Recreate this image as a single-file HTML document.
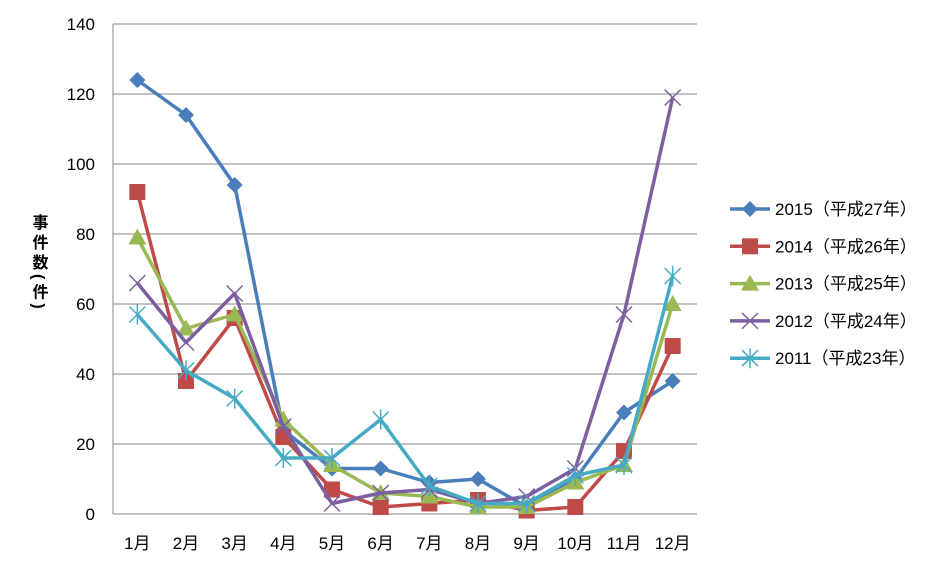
<!DOCTYPE html>
<html><head><meta charset="utf-8"><style>
body{margin:0;background:#fff;}
svg text{font-family:"Liberation Sans","Noto Sans CJK JP",sans-serif;fill:#000;}
</style></head><body>
<svg id="c" width="942" height="568"></svg>
<script>
const categories=["1月","2月","3月","4月","5月","6月","7月","8月","9月","10月","11月","12月"];
const yTicks=[0,20,40,60,80,100,120,140];
const seriesNames=["2015（平成27年）","2014（平成26年）","2013（平成25年）","2012（平成24年）","2011（平成23年）"];
const s2015=[124,114,94,24,13,13,9,10,2,10,29,38];
const s2014=[92,38,56,22,7,2,3,4,1,2,18,48];
const s2013=[79,53,57,27,14,6,5,2,2,9,14,60];
const s2012=[66,49,63,25,3,6,7,3,5,13,57,119];
const s2011=[57,41,33,16,16,27,8,3,3,11,14,68];
const allSeries=[s2015,s2014,s2013,s2012,s2011];
const colors=["#4a7ebb","#be4b48","#98b954","#7d5fa0","#46aac5"];
const markers=["diamond","square","triangle","x","star"];
const NS="http://www.w3.org/2000/svg";
const svg=document.getElementById("c");
const L=113,R=697,T=24,B=514;
const x=i=>L+(R-L)/categories.length*(i+0.5);
const y=v=>B-(v/140)*(B-T);
function mk(t,a,p){const e=document.createElementNS(NS,t);for(const k in a)e.setAttribute(k,a[k]);(p||svg).appendChild(e);return e;}
yTicks.forEach(t=>{
 if(t>0){const g=mk("line",{x1:L,x2:R,y1:y(t),y2:y(t),stroke:"#868686","stroke-width":1});
 
 }
 const tx=mk("text",{x:L-18,y:y(t)+6,"text-anchor":"end","font-size":17});tx.textContent=t;
 
 
});
const ax=mk("line",{x1:L,x2:L,y1:T,y2:B,stroke:"#868686"});


const bx=mk("line",{x1:L,x2:R,y1:B,y2:B,stroke:"#868686"});


categories.forEach((c,i)=>{
 const tx=mk("text",{x:x(i),y:549,"text-anchor":"middle","font-size":17});tx.textContent=c;
 
 
});
const yt=mk("text",{x:38,y:214,"font-size":16,"writing-mode":"tb","font-weight":"bold","letter-spacing":"4"});yt.textContent="事件数(件)";


function marker(type,cx,cy,col,g){
 if(type==="diamond")mk("polygon",{points:`${cx},${cy-8} ${cx+8},${cy} ${cx},${cy+8} ${cx-8},${cy}`,fill:col},g);
 else if(type==="square")mk("rect",{x:cx-8,y:cy-8,width:16,height:16,fill:col},g);
 else if(type==="triangle")mk("polygon",{points:`${cx},${cy-9} ${cx+9},${cy+7} ${cx-9},${cy+7}`,fill:col},g);
 else if(type==="x"){mk("path",{d:`M${cx-8} ${cy-8}L${cx+8} ${cy+8}M${cx+8} ${cy-8}L${cx-8} ${cy+8}`,stroke:col,"stroke-width":1.5},g);}
 else {mk("path",{d:`M${cx-8} ${cy-8}L${cx+8} ${cy+8}M${cx+8} ${cy-8}L${cx-8} ${cy+8}M${cx} ${cy-10}L${cx} ${cy+10}`,stroke:col,"stroke-width":1.5},g);}
}
allSeries.forEach((d,si)=>{
 const g=mk("g",{});
 
 
 mk("polyline",{points:d.map((v,i)=>x(i)+","+y(v)).join(" "),fill:"none",stroke:colors[si],"stroke-width":3.5,"stroke-linejoin":"round"},g);
 d.forEach((v,i)=>marker(markers[si],x(i),y(v),colors[si],g));
 const ly=209+si*37.3;
 const lg=mk("g",{});
 
 
 mk("line",{x1:730,x2:770,y1:ly,y2:ly,stroke:colors[si],"stroke-width":3.5},lg);
 marker(markers[si],750,ly,colors[si],lg);
 const t=mk("text",{x:775,y:ly+6,"font-size":17},lg);t.textContent=seriesNames[si];
});
</script>
</body></html>
